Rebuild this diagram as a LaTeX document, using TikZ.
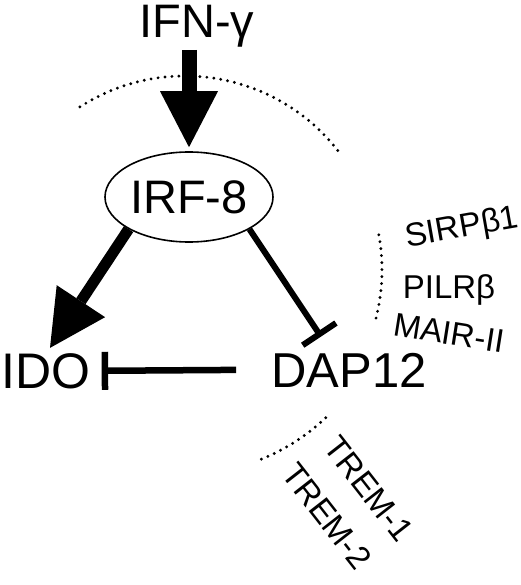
\documentclass[tikz,border=0pt]{standalone}
\usepackage{fontspec}
\setmainfont{Liberation Sans}
\usetikzlibrary{arrows.meta,positioning,shapes.geometric,calc}
\tikzset{
  bigname/.style={font=\fontsize{47}{47}\selectfont,inner sep=2pt},
  genename/.style={font=\fontsize{50}{50}\selectfont,inner sep=2pt},
  hubnode/.style={draw,ellipse,line width=1.6pt,minimum width=168pt,minimum height=90pt,
    inner sep=0pt,font=\fontsize{47}{47}\selectfont},
  partner/.style={font=\fontsize{33}{33}\selectfont,inner sep=0pt},
  fatarrow/.style={-{Triangle[length=56pt,width=58pt,line width=0pt]},line width=15pt},
  inhib/.style={-{Bar[width=40pt]},line width=6pt},
  dotarc/.style={line width=3.2pt,line cap=round,dash pattern=on 0pt off 7pt}
}

\begin{document}
\begin{tikzpicture}[x=1pt,y=1pt]
  \useasboundingbox (0,0) rectangle (520,-585);
  \node[bigname,anchor=base] (ifn) at (197,-38) {IFN-γ};
  \node[hubnode] (irf) at (189,-197) {IRF-8};
  \node[genename,anchor=base] (ido) at (46,-388) {IDO};
  \node[genename,font=\fontsize{49}{49}\selectfont,anchor=base] (dap) at (349,-387) {DAP12};
  \node[partner,rotate=10] (sirp) at (462,-229) {SIRPβ1};
  \node[partner,anchor=base] (pilr) at (449,-298) {PILRβ};
  \node[partner,rotate=-9] (mair) at (449,-333) {MAIR-II};
  \node[partner,rotate=-52] (trem1) at (369,-489) {TREM-1};
  \node[partner,rotate=-52] (trem2) at (327,-516) {TREM-2};
  % receptor arcs
  \coordinate (hub) at (185,-270);
  \draw[dotarc] (hub) ++(122.8:194) arc[start angle=122.8,end angle=36.2,radius=194];
  \draw[dotarc] (hub) ++(10.3:197) arc[start angle=10.3,end angle=-14.7,radius=197];
  \draw[dotarc] (hub) ++(-68:204) arc[start angle=-68,end angle=-45,radius=204];
  % signalling
  \draw[fatarrow] (ifn.south -| irf.north) -- ([yshift=4pt]irf.north);
  \draw[fatarrow,line width=11pt] (irf.208) -- ([shift={(4,3)}]ido.north);
  \draw[inhib] (irf.332) -- ($(dap.north)+(-28,14)$);
  \draw[inhib,-{Bar[width=38pt]},line width=6.5pt] ([xshift=-33pt]dap.west) -- ([xshift=9pt]ido.east);
\end{tikzpicture}
\end{document}
